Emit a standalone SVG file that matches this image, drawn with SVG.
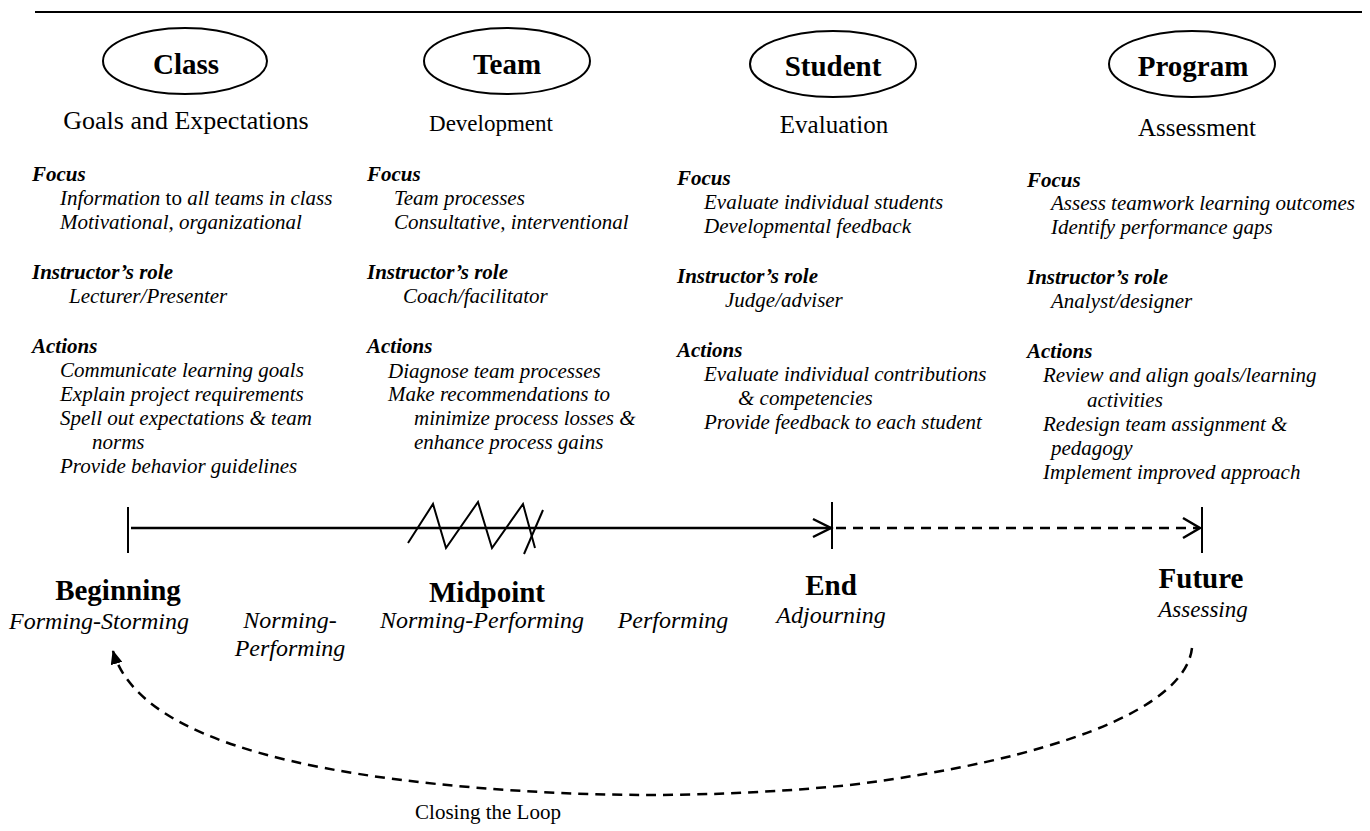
<svg xmlns="http://www.w3.org/2000/svg" width="1370" height="831" viewBox="0 0 1370 831">
<style>
text{font-family:"Liberation Serif","Times New Roman",serif;fill:#000}
.ell{fill:none;stroke:#000;stroke-width:2}
.hd{font-weight:bold;font-size:29px;text-anchor:middle}
.sub{font-size:25px;text-anchor:middle}
.h{font-weight:bold;font-style:italic;font-size:21px}
.b{font-style:italic;font-size:21px}
.lbl{font-weight:bold;font-size:29px;text-anchor:middle}
.it{font-style:italic;font-size:24px;text-anchor:middle}
.ln{stroke:#000;stroke-width:2.5;fill:none}
.tk{stroke:#000;stroke-width:2;fill:none}
.dash{stroke:#000;stroke-width:2.5;fill:none;stroke-dasharray:10 7}
</style>
<defs>
<marker id="tri" viewBox="0 0 14 12" refX="13" refY="6" markerWidth="14" markerHeight="12" markerUnits="userSpaceOnUse" orient="auto">
<path d="M0,0 L14,6 L0,12 z" fill="#000"/>
</marker>
</defs>
<line x1="35" y1="12" x2="1362" y2="12" stroke="#000" stroke-width="2"/>

<g id="class">
<ellipse class="ell" cx="185" cy="61" rx="82" ry="33"/>
<text class="hd" x="186" y="74">Class</text>
<text class="sub" x="186" y="129" style="font-size:26px">Goals and Expectations</text>
<text class="h" x="32" y="181">Focus</text>
<text class="b" x="60" y="205"><tspan>Information</tspan><tspan font-style="normal"> to </tspan><tspan>all teams in class</tspan></text>
<text class="b" x="60" y="229">Motivational, organizational</text>
<text class="h" x="32" y="279">Instructor’s role</text>
<text class="b" x="69" y="303">Lecturer/Presenter</text>
<text class="h" x="32" y="353">Actions</text>
<text class="b" x="60" y="377">Communicate learning goals</text>
<text class="b" x="60" y="401">Explain project requirements</text>
<text class="b" x="60" y="425">Spell out expectations &amp; team</text>
<text class="b" x="92" y="449">norms</text>
<text class="b" x="60" y="473">Provide behavior guidelines</text>
</g>

<g id="team">
<ellipse class="ell" cx="507" cy="61" rx="83" ry="33"/>
<text class="hd" x="507" y="74">Team</text>
<text class="sub" x="491" y="131" style="font-size:23px">Development</text>
<text class="h" x="367" y="181">Focus</text>
<text class="b" x="394" y="205">Team processes</text>
<text class="b" x="394" y="229">Consultative, interventional</text>
<text class="h" x="367" y="279">Instructor’s role</text>
<text class="b" x="403" y="303">Coach/facilitator</text>
<text class="h" x="367" y="353">Actions</text>
<text class="b" x="388" y="378">Diagnose team processes</text>
<text class="b" x="388" y="401">Make recommendations to</text>
<text class="b" x="414" y="425">minimize process losses &amp;</text>
<text class="b" x="414" y="449">enhance process gains</text>
</g>

<g id="student">
<ellipse class="ell" cx="833" cy="64" rx="83" ry="33"/>
<text class="hd" x="833" y="76">Student</text>
<text class="sub" x="834" y="133">Evaluation</text>
<text class="h" x="677" y="185">Focus</text>
<text class="b" x="704" y="209">Evaluate individual students</text>
<text class="b" x="704" y="233">Developmental feedback</text>
<text class="h" x="677" y="283">Instructor’s role</text>
<text class="b" x="725" y="307">Judge/adviser</text>
<text class="h" x="677" y="357">Actions</text>
<text class="b" x="704" y="381">Evaluate individual contributions</text>
<text class="b" x="738" y="405">&amp; competencies</text>
<text class="b" x="704" y="429">Provide feedback to each student</text>
</g>

<g id="program">
<ellipse class="ell" cx="1192" cy="64" rx="83" ry="33"/>
<text class="hd" x="1193" y="76">Program</text>
<text class="sub" x="1197" y="136">Assessment</text>
<text class="h" x="1027" y="187">Focus</text>
<text class="b" x="1051" y="210">Assess teamwork learning outcomes</text>
<text class="b" x="1051" y="234">Identify performance gaps</text>
<text class="h" x="1027" y="284">Instructor’s role</text>
<text class="b" x="1051" y="308">Analyst/designer</text>
<text class="h" x="1027" y="358">Actions</text>
<text class="b" x="1043" y="382">Review and align goals/learning</text>
<text class="b" x="1087" y="407">activities</text>
<text class="b" x="1043" y="431">Redesign team assignment &amp;</text>
<text class="b" x="1051" y="455">pedagogy</text>
<text class="b" x="1043" y="479">Implement improved approach</text>
</g>

<g id="beginning">
<text class="lbl" x="118" y="600">Beginning</text>
<text class="it" x="99" y="629">Forming-Storming</text>
</g>
<g id="norming">
<text class="it" x="290" y="628">Norming-</text>
<text class="it" x="290" y="656">Performing</text>
</g>
<g id="midpoint">
<text class="lbl" x="487" y="602">Midpoint</text>
<text class="it" x="482" y="628">Norming-Performing</text>
</g>
<g id="performing">
<text class="it" x="673" y="628">Performing</text>
</g>
<g id="end">
<text class="lbl" x="831" y="595">End</text>
<text class="it" x="831" y="623">Adjourning</text>
</g>
<g id="future">
<text class="lbl" x="1201" y="588">Future</text>
<text class="it" x="1203" y="617" style="font-size:23px">Assessing</text>
</g>

<g id="connectors">
<line class="tk" x1="128" y1="507" x2="128" y2="553"/>
<line class="ln" x1="131" y1="528" x2="831" y2="528"/>
<polyline class="ln" points="813,519 831,528 813,537"/>
<line class="tk" x1="832" y1="502" x2="832" y2="549"/>
<line class="dash" x1="836" y1="528" x2="1199" y2="528"/>
<polyline class="ln" points="1183,518 1200,528 1183,538"/>
<line class="tk" x1="1202" y1="507" x2="1202" y2="553"/>
<polyline class="tk" points="408,543 433,504 446,548 478,502 492,548 523,504 535,548"/>
<line class="tk" x1="543" y1="510" x2="524" y2="554"/>
<path class="dash" d="M1192,648 C1185,710 1050,760 850,785 C750,795 650,797 560,793 C330,782 140,745 113,651" marker-end="url(#tri)"/>
</g>
<text x="488" y="819" style="font-size:21px;text-anchor:middle">Closing the Loop</text>
</svg>
